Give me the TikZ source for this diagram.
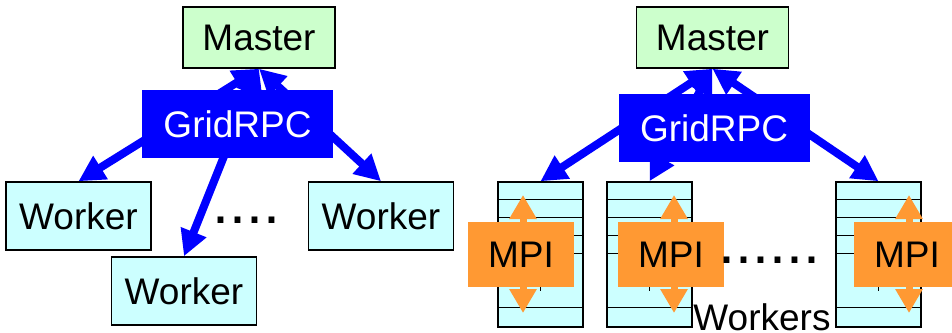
\documentclass[tikz,border=0pt]{standalone}
\usepackage{fontspec}
\setmainfont{Liberation Sans}
\usetikzlibrary{arrows.meta}

\definecolor{mastergreen}{HTML}{CCFFCC}
\definecolor{workercyan}{HTML}{CCFFFF}
\definecolor{rpcblue}{HTML}{0000FF}
\definecolor{mpiorange}{HTML}{FF9933}

\begin{document}
\begin{tikzpicture}[x=1pt,y=-1pt,font=\fontsize{37}{44}\selectfont,
	box/.style={draw=black,line width=1.5pt,inner sep=0pt},
	master/.style={box,fill=mastergreen,minimum width=152pt,minimum height=61pt},
	worker/.style={box,fill=workercyan,minimum width=145pt,minimum height=68pt},
	stack/.style={box,fill=workercyan,minimum width=85pt,minimum height=145pt},
	grid/.style={fill=rpcblue,text=white,inner sep=0pt,minimum width=191pt,minimum height=68pt},
	mpi/.style={fill=mpiorange,inner sep=0pt,minimum width=106pt,minimum height=65pt},
	rpc/.style={draw=rpcblue,line width=8pt,{Triangle[length=26pt,width=26pt]}-{Triangle[length=26pt,width=26pt]}},
	mpiarrow/.style={draw=mpiorange,line width=7pt,{Triangle[length=24pt,width=26pt]}-{Triangle[length=24pt,width=26pt]}},
	dots/.style={font=\fontsize{61}{70}\selectfont,anchor=base,inner sep=0pt}]
	
	\useasboundingbox (0,0) rectangle (952,332);
	\clip (0,0) rectangle (952,332);
	
	% plain GridRPC
	\node[master] (mL) at (259, 37.5)  {Master};
	\node[worker] (w1) at (78.5, 216)  {Worker};
	\node[worker] (w2) at (184, 291)   {Worker};
	\node[worker] (w3) at (381, 216)   {Worker};
	\draw[rpc] (mL.south) -- (w1.north);
	\draw[rpc] (mL.south) -- (w2.north);
	\draw[rpc] (mL.south) -- (w3.north);
	\node[grid] (gL) at (237.5, 124)   {GridRPC};
	\node[dots] (dL) at (246.5, 223)   {....};
	
	% GridRPC + MPI
	\node[master] (mR) at (712.5, 37.5) {Master};
	\node[stack] (s1) at (540.5, 254.5) {};
	\node[stack] (s2) at (649.5, 254.5) {};
	\node[stack] (s3) at (878.5, 254.5) {};
	\foreach \s in {s1,s2,s3} {
		\foreach \k in {18,36,54,72,126}
			\draw[line width=1.5pt] ([yshift=-\k pt]\s.north west) -- ([yshift=-\k pt]\s.north east);
		\draw[line width=1.5pt] (\s.center) -- ([yshift=-36pt]\s.center);
	}
	\foreach \s in {s1,s2,s3}
		\draw[rpc] (mR.south) -- (\s.north);
	\node[grid] (gR) at (714, 128)     {GridRPC};
	\foreach \x/\n in {523/1,674/2,909/3} {
		\coordinate (t\n) at (\x, 195);
		\coordinate (b\n) at (\x, 313);
		\draw[mpiarrow] (t\n) -- (b\n);
	}
	\node[mpi] (p1) at (521, 254.5)    {MPI};
	\node[mpi] (p2) at (671, 254.5)    {MPI};
	\node[mpi] (p3) at (907, 254.5)    {MPI};
	\node[dots] (dR) at (769.5, 263)   {......};
	\node[anchor=base,inner sep=0pt] (wk) at (762, 330) {Workers};
	
\end{tikzpicture}
\end{document}
